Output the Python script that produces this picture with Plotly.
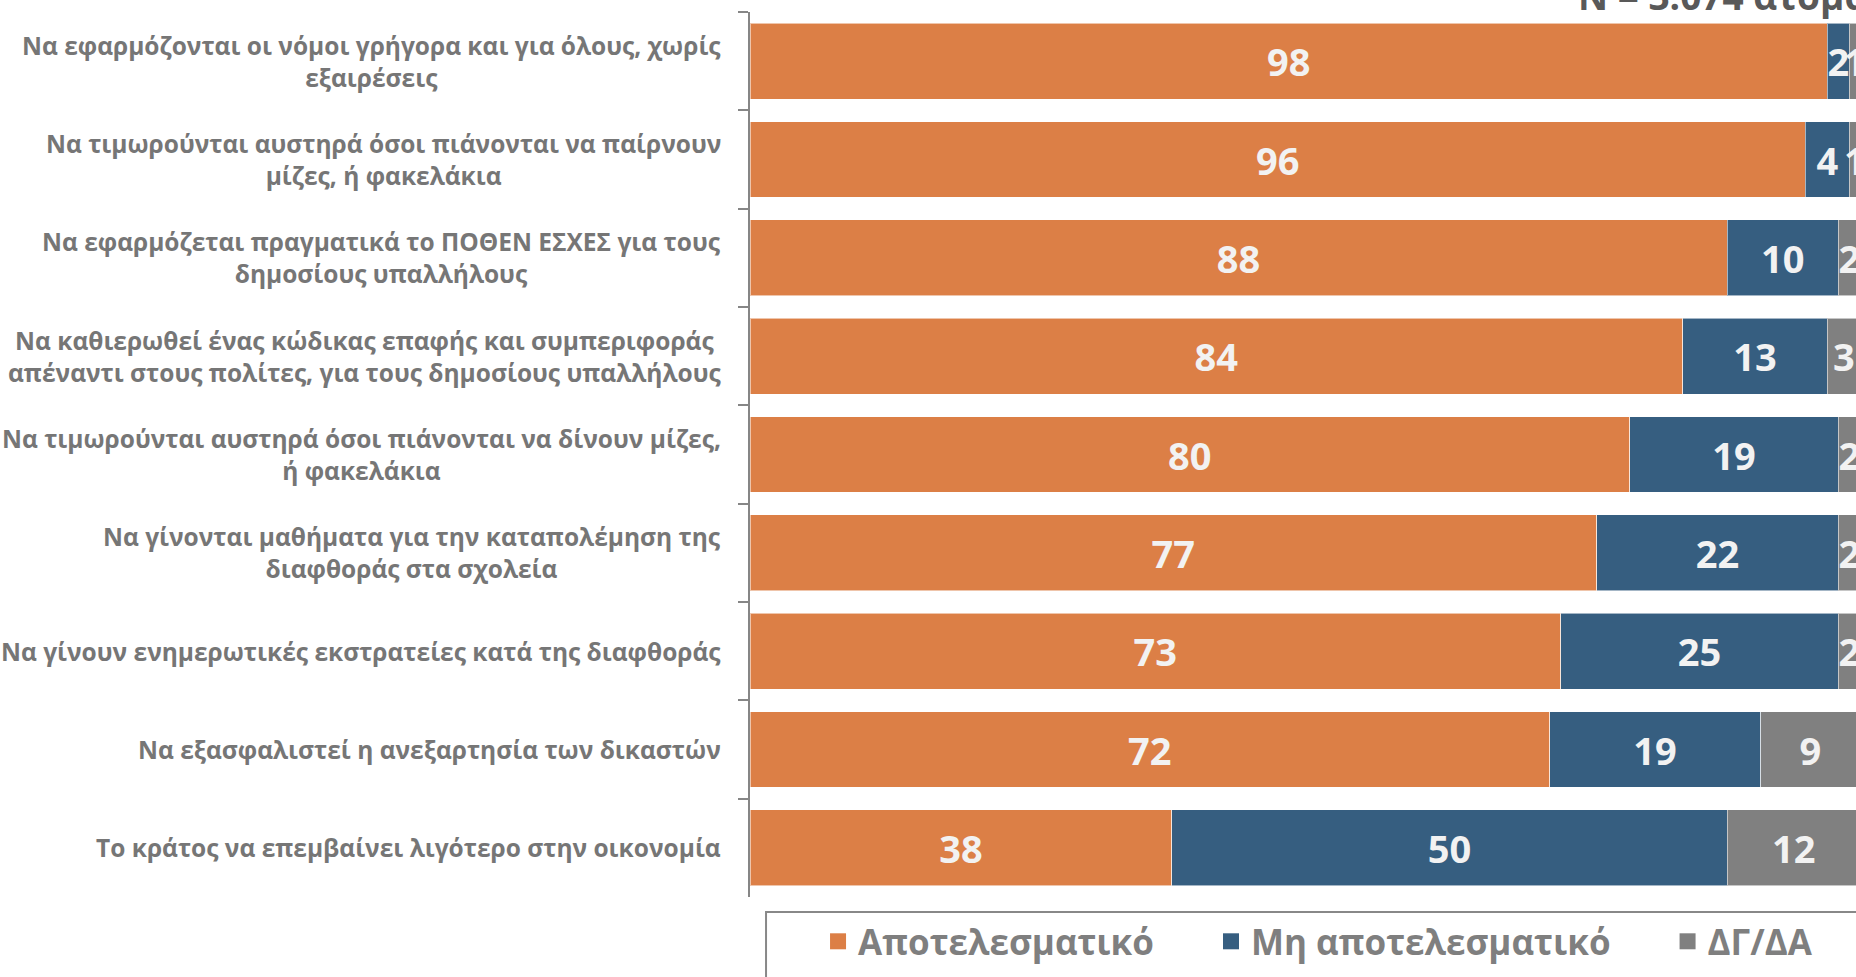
import plotly.graph_objects as go
import numpy as np

categories = [
    "Να εφαρμόζονται οι νόμοι γρήγορα και για όλους, χωρίς<br>εξαιρέσεις",
    "Να τιμωρούνται αυστηρά όσοι πιάνονται να παίρνουν<br>μίζες, ή φακελάκια",
    "Να εφαρμόζεται πραγματικά το ΠΟΘΕΝ ΕΣΧΕΣ για τους<br>δημοσίους υπαλλήλους",
    "Να καθιερωθεί ένας κώδικας επαφής και συμπεριφοράς<br>απέναντι στους πολίτες, για τους δημοσίους υπαλλήλους",
    "Να τιμωρούνται αυστηρά όσοι πιάνονται να δίνουν μίζες,<br>ή φακελάκια",
    "Να γίνονται μαθήματα για την καταπολέμηση της<br>διαφθοράς στα σχολεία",
    "Να γίνουν ενημερωτικές εκστρατείες κατά της διαφθοράς",
    "Να εξασφαλιστεί η ανεξαρτησία των δικαστών",
    "Το κράτος να επεμβαίνει λιγότερο στην οικονομία",
]
effective = [98, 96, 88, 84, 80, 77, 73, 72, 38]
not_effective = [2, 4, 10, 13, 19, 22, 25, 19, 50]
dk_na = [1, 1, 2, 3, 2, 2, 2, 9, 12]
series_names = ["Αποτελεσματικό", "Μη αποτελεσματικό", "ΔΓ/ΔΑ"]
series_colors = ["#DC7F46", "#365E80", "#808080"]
sample_note = "N = 3.074 άτομα"

FONT = "Open Sans"
fig = go.Figure()
for name, vals, col in zip(series_names, [effective, not_effective, dk_na], series_colors):
    fig.add_trace(go.Bar(
        y=categories, x=vals, orientation="h", name=name, legendgroup=name,
        showlegend=False, hoverinfo="x+name",
        marker=dict(color=col, line=dict(color="rgba(255,255,255,0.55)", width=1)),
        text=vals, texttemplate="%{text}", textposition="inside",
        insidetextanchor="middle", constraintext="none",
        textfont=dict(family=FONT, size=38, color="#F2F2F2", weight="bold"),
    ))
    # legend entry (larger square symbol than the bar legend icon)
    fig.add_trace(go.Scatter(
        x=[None], y=[None], mode="markers", name=name, legendgroup=name,
        marker=dict(symbol="square", size=23, color=col), hoverinfo="skip",
    ))

annotations = []
for cat in categories:
    annotations.append(dict(
        x=-0.0245, xref="paper", y=cat, yref="y", text=cat, showarrow=False,
        xanchor="right", yanchor="middle", align="center",
        font=dict(family=FONT, size=24.5, color="#767676", weight="bold"),
    ))
annotations.append(dict(
    x=0.7468, xref="paper", y=0.988, yref="paper", text=sample_note, showarrow=False,
    xanchor="left", yanchor="bottom",
    font=dict(family=FONT, size=37, color="#595959", weight="bold"),
))

# frame of the legend box, which runs past the right and bottom edges of the canvas
legend_frame = dict(
    type="rect", xref="paper", yref="paper",
    x0=0.0145, x1=1.05, y0=-0.017, y1=-0.2,
    line=dict(color="#888888", width=2), fillcolor="rgba(0,0,0,0)", layer="above",
)

fig.update_layout(
    width=1856, height=977,
    margin=dict(l=750, r=0, t=12, b=80, pad=0),
    paper_bgcolor="white", plot_bgcolor="white",
    barmode="stack", barnorm="percent", bargap=0.228,
    font=dict(family=FONT, color="#7F7F7F"),
    xaxis=dict(range=[0, 99.6], visible=False, fixedrange=True),
    yaxis=dict(
        autorange="reversed", showticklabels=False, showgrid=False, zeroline=False,
        showline=True, linecolor="#868686", linewidth=2,
        ticks="outside", ticklen=10, tickwidth=2, tickcolor="#868686",
        tickson="boundaries",
    ),
    legend=dict(
        orientation="h", x=0.0145, y=-0.017, xanchor="left", yanchor="top",
        borderwidth=0, bgcolor="rgba(0,0,0,0)",
        font=dict(family=FONT, size=35, color="#7F7F7F", weight="bold"),
        indentation=52,
    ),
    shapes=[legend_frame],
    annotations=annotations,
)

fig.write_html(
    "out.html",
    config={"displayModeBar": False},
    post_script="document.body.style.margin='0px';",
)
